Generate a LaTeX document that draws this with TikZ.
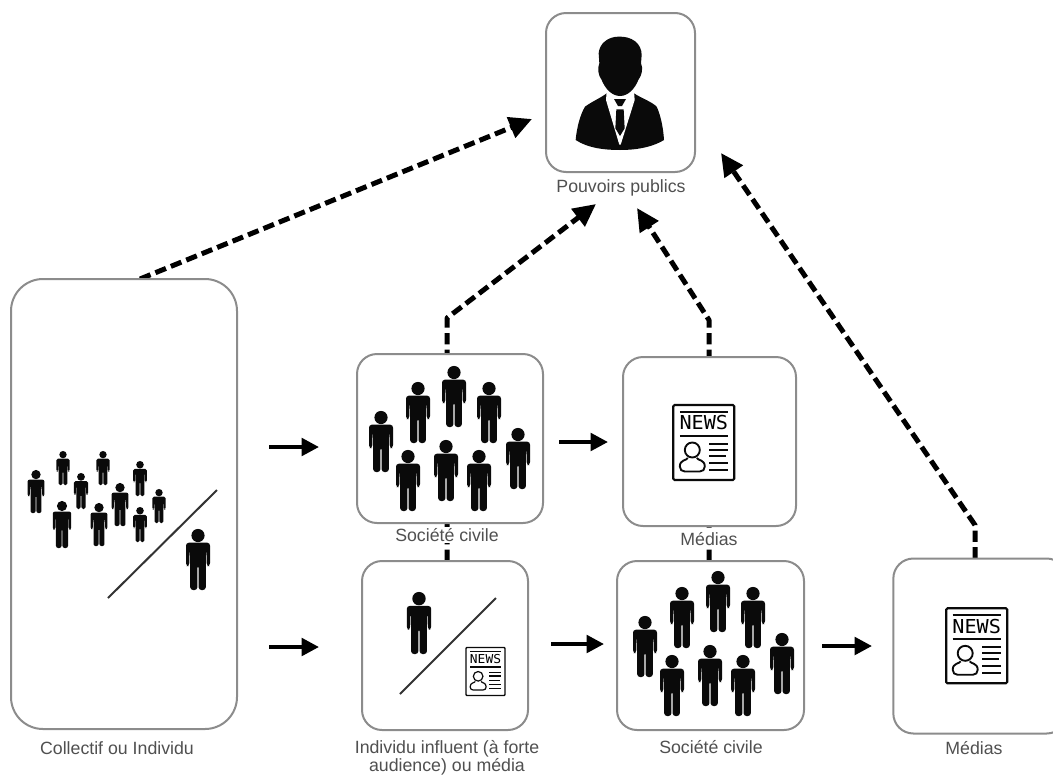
\documentclass[tikz,border=0pt]{standalone}
\usepackage{fontspec}
\setmainfont{Liberation Sans}
\newfontfamily\newsfont{DejaVu Sans Mono}
\usetikzlibrary{arrows.meta,backgrounds}
\definecolor{boxgray}{HTML}{8C8C8C}
\definecolor{labelgray}{HTML}{505050}
\definecolor{inkdark}{HTML}{0A0A0A}
\tikzset{
  box/.style={draw=boxgray,line width=1.5pt,fill=white,rectangle,rounded corners=15pt,inner sep=0pt,outer sep=0pt},
  tallbox/.style={box,rounded corners=24pt},
  lab/.style={text=labelgray,font=\fontsize{13.3}{13.5}\selectfont,align=center,inner sep=1pt,fill=white},
  flow/.style={line width=3pt,-{Triangle[length=13pt,width=13pt]},black},
  influence/.style={line width=3.75pt,line join=round,dash pattern=on 8.5pt off 4pt,-{Triangle[length=17pt,width=16pt]},black},
  slash/.style={line width=1.5pt,draw=black!80},
}
\newcommand\person[3]{%
  \begin{scope}[shift={(#1,#2)},scale=#3/61]
    \fill[inkdark] (0,6.5) circle[radius=6.6];
    \fill[inkdark,rounded corners=#3*0.035pt]
      (-12,13.7)--(12,13.7)--(12,37)--(8.7,37)--(8.4,21)--(7.8,21)--(7.8,61)--(0.6,61)--(0.6,36)
      --(-0.6,36)--(-0.6,61)--(-7.8,61)--(-7.8,21)--(-8.4,21)--(-8.7,37)--(-12,37)--cycle;
  \end{scope}}
\newcommand\newsicon[4]{%
  \begin{scope}[shift={(#1,#2)},scale=#3]
    \draw[inkdark,line width=#3*1.6pt,rounded corners=#3*1pt] (-30.5,-37.5) rectangle (30.5,37.5);
    \draw[inkdark,line width=#3*1.5pt] (-24,-31)--(24,-31) (-24,-7)--(24,-7);
    \node[inner sep=0pt,font=\newsfont\fontsize{14.4}{14.4}\selectfont,xscale=1.05*#3,yscale=#3] (#4) at (0,-19.5) {NEWS};
    \draw[inkdark,line width=#3*1.4pt] (-11.5,7.5) circle[radius=7.5];
    \draw[inkdark,line width=#3*1.4pt] (-16,15.5) .. controls (-17,18) and (-24,17) .. (-24,24)
      .. controls (-24,27) and (-22,29) .. (-19,29) -- (-4,29) .. controls (-1,29) and (1,27) .. (1,24)
      .. controls (1,17) and (-6,18) .. (-7,15.5);
    \draw[inkdark,line width=#3*1.5pt] (5.5,1)--(24.5,1) (5.5,7)--(24.5,7) (5.5,13.5)--(22,13.5) (5.5,20)--(24.5,20) (5.5,27)--(24.5,27);
  \end{scope}}
\newcommand\crowd[2]{%
  \person{#1+381}{#2+411}{61}\person{#1+418}{#2+382}{61}\person{#1+454}{#2+366}{61}\person{#1+489}{#2+382}{61}
  \person{#1+408}{#2+450}{61}\person{#1+446}{#2+440}{61}\person{#1+479}{#2+450}{61}\person{#1+518}{#2+428}{61}}
\begin{document}
\begin{tikzpicture}[x=0.75pt,y=-0.75pt]
\useasboundingbox (0,0) rectangle (1053,775);
% boxes
\node[box,minimum width=111.75pt,minimum height=119.25pt] (pouvoirs) at (620.5,92.5) {};
\node[tallbox,minimum width=169.5pt,minimum height=337.5pt] (collectif) at (124,504) {};
\node[box,minimum width=139.5pt,minimum height=126.75pt] (sc1) at (450,438.5) {};
\node[box,minimum width=129.75pt,minimum height=126.75pt] (med1) at (709.5,441.5) {};
\node[box,minimum width=124.5pt,minimum height=126.75pt] (indiv) at (445,645.5) {};
\node[box,minimum width=140.25pt,minimum height=126.75pt] (sc2) at (710.5,645.5) {};
\node[box,minimum width=130pt,minimum height=131.25pt] (med2) at (980,646) {};
% labels
\node[lab] (lpouvoirs) at (621,188) {Pouvoirs publics};
\node[lab] (lsc1) at (447,535) {Société civile};
\node[lab] (lmed1) at (709,539) {Médias};
\node[lab] (lcoll) at (117,748) {Collectif ou Individu};
\node[lab] (lindiv) at (447,757.5) {Individu influent (à forte\\audience) ou média};
\node[lab] (lsc2) at (711,747) {Société civile};
\node[lab] (lmed2) at (974,748) {Médias};
% connectors
\coordinate (b1) at (447,318);
\coordinate (b2) at (709,320);
\coordinate (b3) at (975,525);
\coordinate (s0) at (140,279);
\coordinate (t0) at (532,119);
\coordinate (t1) at (596,204);
\coordinate (t2) at (637,208);
\coordinate (t3) at (721,153);
\begin{scope}[on background layer]
  \draw[influence] (s0) -- (t0);
  \draw[influence] (b1 |- indiv.north) -- (b1) -- (t1);
  \draw[influence] (b2 |- sc2.north) -- (b2) -- (t2);
  \draw[influence] (b3 |- med2.north) -- (b3) -- (t3);
\end{scope}
\coordinate (a1) at (269,447); \coordinate (a2) at (319,447);
\coordinate (a3) at (269,647); \coordinate (a4) at (319,647);
\coordinate (a5) at (559,442); \coordinate (a6) at (608,442);
\coordinate (a7) at (551,644); \coordinate (a8) at (604,644);
\coordinate (a9) at (822,646); \coordinate (a10) at (872,646);
\draw[flow] (a1) -- (a2);
\draw[flow] (a3) -- (a4);
\draw[flow] (a5) -- (a6);
\draw[flow] (a7) -- (a8);
\draw[flow] (a9) -- (a10);
% executive
\begin{scope}[shift={(530,0)},scale=1/3]
  \fill[inkdark] (137,420) .. controls (140,385) and (150,345) .. (165,320) .. controls (185,305) and (210,295) .. (230,280)
    -- (268,432) -- (272,432) -- (312,280) .. controls (335,295) and (365,305) .. (380,320)
    .. controls (392,345) and (400,385) .. (402,420) .. controls (360,445) and (310,450) .. (270,450)
    .. controls (225,450) and (175,445) .. (137,420) -- cycle;
  \fill[white] (230,275) -- (312,275) -- (314,300) -- (272,434) -- (268,434) -- (228,300) -- cycle;
  \fill[inkdark] (252,297) -- (288,297) -- (276,318) -- (264,318) -- cycle;
  \fill[inkdark] (259,328) -- (281,328) -- (284,385) -- (270,408) -- (256,385) -- cycle;
  \fill[inkdark] (265,110) .. controls (305,108) and (335,130) .. (335,165) -- (333,190)
    .. controls (340,205) and (336,225) .. (325,240) .. controls (315,265) and (295,288) .. (270,288)
    .. controls (245,288) and (225,265) .. (215,240) .. controls (204,225) and (202,205) .. (208,190)
    -- (206,160) .. controls (208,130) and (235,110) .. (265,110) -- cycle;
\end{scope}
% collectif
\person{36}{470}{43}\person{63}{451}{34}\person{81}{473}{36}\person{103}{451}{34}
\person{140}{461}{35}\person{159}{489}{34}\person{120}{483}{43}\person{140}{507}{35}
\person{99}{503}{43}\person{62}{501}{47}\person{198}{529}{61}
\coordinate (c1) at (217,490); \coordinate (c2) at (108,598);
\draw[slash] (c1) -- (c2);
% groups
\crowd{0}{0}
\crowd{264}{205}
% individual
\person{419}{592}{62}
\coordinate (d1) at (496,598); \coordinate (d2) at (400,694);
\draw[slash] (d1) -- (d2);
% news icons
\newsicon{703.8}{442.5}{1}{news1}
\newsicon{976.7}{645.8}{1}{news2}
\newsicon{485.5}{671.5}{0.64}{news3}
\end{tikzpicture}
\end{document}
